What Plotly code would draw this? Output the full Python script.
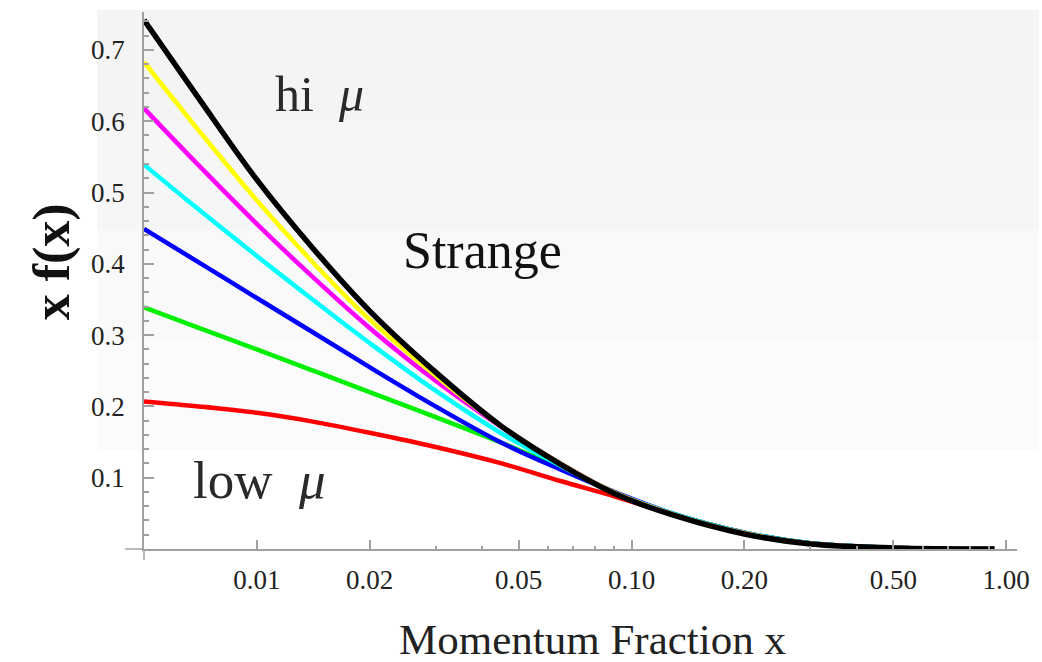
import plotly.graph_objects as go

# Momentum fraction grid
x_vals = [0.005, 0.007, 0.01, 0.014, 0.02, 0.03, 0.045, 0.065, 0.09, 0.13, 0.2, 0.3, 0.5, 0.93]

# x f(x) for the strange quark at increasing scale mu (low -> high)
red_vals     = [0.207, 0.200, 0.191, 0.179, 0.163, 0.143, 0.120, 0.095, 0.074, 0.048, 0.023, 0.008, 0.0018, 0.0]
green_vals   = [0.339, 0.310, 0.280, 0.251, 0.220, 0.185, 0.149, 0.113, 0.080, 0.049, 0.023, 0.008, 0.0018, 0.0]
blue_vals    = [0.449, 0.402, 0.352, 0.305, 0.255, 0.200, 0.149, 0.111, 0.080, 0.049, 0.023, 0.008, 0.0018, 0.0]
cyan_vals    = [0.539, 0.476, 0.411, 0.351, 0.289, 0.222, 0.162, 0.116, 0.079, 0.049, 0.023, 0.008, 0.0018, 0.0]
magenta_vals = [0.618, 0.538, 0.456, 0.383, 0.310, 0.236, 0.171, 0.119, 0.079, 0.048, 0.022, 0.0075, 0.0017, 0.0]
yellow_vals  = [0.683, 0.587, 0.489, 0.404, 0.322, 0.243, 0.172, 0.119, 0.079, 0.048, 0.022, 0.0075, 0.0017, 0.0]
black_vals   = [0.742, 0.632, 0.518, 0.424, 0.334, 0.248, 0.172, 0.118, 0.078, 0.047, 0.021, 0.007, 0.0015, 0.0]

x_tickvals = [0.01, 0.02, 0.05, 0.1, 0.2, 0.5, 1.0]
x_ticktext = ["0.01", "0.02", "0.05", "0.10", "0.20", "0.50", "1.00"]
x_minor = [0.03, 0.04, 0.06, 0.07, 0.08, 0.09, 0.3, 0.4, 0.6, 0.7, 0.8, 0.9]
y_tickvals = [0.1, 0.2, 0.3, 0.4, 0.5, 0.6, 0.7]
y_ticktext = ["0.1", "0.2", "0.3", "0.4", "0.5", "0.6", "0.7"]

series = [
    ("red", red_vals, "#ff0000"),
    ("green", green_vals, "#00ee00"),
    ("blue", blue_vals, "#0000ff"),
    ("cyan", cyan_vals, "#00ffff"),
    ("magenta", magenta_vals, "#ff00ff"),
    ("yellow", yellow_vals, "#ffff00"),
    ("black", black_vals, "#000000"),
]

fig = go.Figure()
for name, vals, col in series:
    fig.add_trace(go.Scatter(
        x=x_vals, y=vals, mode="lines", name=name,
        line=dict(color=col, width=5.5 if name == "black" else 4.5, shape="spline", smoothing=1.0),
        showlegend=False,
    ))

W, H = 1042, 662
L, R, T, B = 144, 22, 12, 113
pw, ph = W - L - R, H - T - B

def px(xp):
    return (xp - L) / pw

def py(yp):
    return (H - B - yp) / ph

shapes = []
# light grey background bands (fading downward)
bands = [(10, 120, "#f4f4f4"), (120, 230, "#f6f6f6"), (230, 340, "#f9f9f9"), (340, 450, "#fbfbfb")]
for y0, y1, c in bands:
    shapes.append(dict(type="rect", xref="paper", yref="paper",
                       x0=px(97), x1=px(1042), y0=py(y1), y1=py(y0),
                       fillcolor=c, line=dict(width=0), layer="below"))
# axis extensions (x-axis runs left of y-axis, y-axis runs below x-axis)
shapes.append(dict(type="line", xref="paper", yref="paper",
                   x0=px(125), x1=0, y0=0, y1=0, line=dict(color="#a0a0a0", width=1.5)))
shapes.append(dict(type="line", xref="paper", yref="paper",
                   x0=0, x1=0, y0=py(560), y1=0, line=dict(color="#a0a0a0", width=1.5)))

serif = "Liberation Serif"

def ann(text, xp, yp, size, color="#222222", angle=0):
    return dict(text=text, x=px(xp), y=py(yp), xref="paper", yref="paper",
                xanchor="center", yanchor="middle", textangle=angle,
                showarrow=False, font=dict(family=serif, size=size, color=color))

annotations = [
    ann("hi&nbsp;&nbsp;<i>μ</i>", 320, 94, 50, "#2a2a2a"),
    ann("Strange", 484, 250, 52, "#111111"),
    ann("low&nbsp;&nbsp;<i>μ</i>", 260, 480, 53, "#2a2a2a"),
    ann("<b>x f(x)</b>", 52, 262, 52, "#111111", -90),
    ann("Momentum Fraction x", 594, 640, 43, "#222222"),
]

fig.update_layout(
    width=W, height=H,
    margin=dict(l=L, r=R, t=T, b=B),
    paper_bgcolor="white",
    plot_bgcolor="rgba(0,0,0,0)",
    shapes=shapes,
    annotations=annotations,
    xaxis=dict(
        type="log", range=[-2.30103, -2.30103 + pw / 376.0],
        tickvals=x_tickvals, ticktext=x_ticktext,
        ticks="inside", ticklen=9, tickcolor="#a0a0a0", tickwidth=1.5,
        minor=dict(tickvals=x_minor, ticks="inside", ticklen=3, tickcolor="#a0a0a0"),
        showline=True, linecolor="#a0a0a0", linewidth=1.5,
        showgrid=False, zeroline=False,
        tickfont=dict(family=serif, size=27, color="#222222"),
        ticklabelstandoff=6,
    ),
    yaxis=dict(
        range=[0, (H - B - T) / 713.0],
        tickvals=y_tickvals, ticktext=y_ticktext,
        ticks="inside", ticklen=10, tickcolor="#a0a0a0", tickwidth=1.5,
        minor=dict(dtick=0.02, tick0=0, ticks="inside", ticklen=5, tickcolor="#a0a0a0"),
        showline=True, linecolor="#a0a0a0", linewidth=1.5,
        showgrid=False, zeroline=False,
        tickfont=dict(family=serif, size=27, color="#222222"),
        ticklabelstandoff=12,
    ),
)

fig.write_html("out.html")
